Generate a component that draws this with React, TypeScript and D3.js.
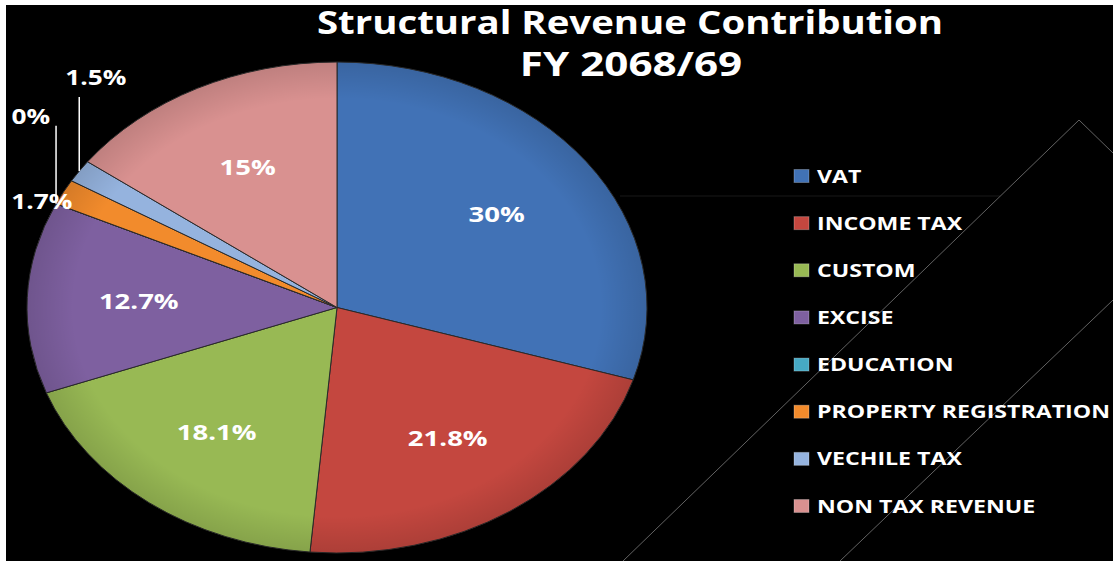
import React from 'react'
import * as d3 from 'd3'

// revenue share per head, FY 2068/69 (percent of total, as printed on the slices)
const categories = ['VAT', 'INCOME TAX', 'CUSTOM', 'EXCISE', 'EDUCATION', 'PROPERTY REGISTRATION', 'VECHILE TAX', 'NON TAX REVENUE']
const shares = [30, 21.8, 18.1, 12.7, 0, 1.7, 1.5, 15]
const shareLabels = ['30%', '21.8%', '18.1%', '12.7%', '0%', '1.7%', '1.5%', '15%']
const colors = ['#4172B6', '#C4473F', '#98B954', '#7E60A0', '#46A9C4', '#F28B2C', '#95B3DE', '#D99190']
const titleLines = ['Structural Revenue Contribution', 'FY 2068/69']

const W = 1114
const H = 563
const cx = 337
const cy = 307.5
const ry = 245.5
const rx = 310
const sx = rx / ry
const stretch = 1.25
const font = "'Open Sans', 'DejaVu Sans', sans-serif"

function App() {
  const pie = d3.pie<number>().value(d => d).sort(null)
  const slices = pie(shares)
  const arc = d3.arc<d3.PieArcDatum<number>>().innerRadius(0).outerRadius(ry)
  const labelArc = d3.arc<d3.PieArcDatum<number>>().innerRadius(ry * 0.64).outerRadius(ry * 0.64)

  const legendY = d3.scalePoint<string>().domain(categories).range([176, 506])

  // point on the rim of the (stretched) pie at a given angle
  const rim = (a: number): [number, number] => [cx + Math.sin(a) * rx, cy - Math.cos(a) * ry]

  const txt = (x: number, y: number, s: string, size: number, anchor = 'middle', key?: string | number, k = stretch) => (
    <text key={key} transform={`translate(${x},${y}) scale(${k},1)`} textAnchor={anchor}
      fontFamily={font} fontWeight="bold" fontSize={size} fill="#fff">{s}</text>
  )

  return (
    <svg width={W} height={H} style={{ position: 'fixed', left: 0, top: 0, background: '#fff' }}>
      <defs>
        <radialGradient id="shade" cx="0.5" cy="0.5" r="0.5">
          <stop offset="0.85" stopColor="#000" stopOpacity={0} />
          <stop offset="1" stopColor="#000" stopOpacity={0.12} />
        </radialGradient>
      </defs>
      <rect x={6} y={5} width={1107} height={556} fill="#000" />

      {/* faint diagonal strokes in the picture background */}
      <g stroke="#9a9a9a" strokeWidth={0.8} fill="none" opacity={0.8}>
        <line x1={1079} y1={120} x2={623} y2={561} />
        <line x1={1079} y1={120} x2={1113} y2={153} />
        <line x1={1113} y1={300} x2={840} y2={561} />
        <line x1={620} y1={196} x2={1000} y2={196} strokeWidth={0.4} opacity={0.5} />
      </g>

      {txt(630, 34, titleLines[0], 32, 'middle', 't0', 1.2)}
      {txt(631, 76, titleLines[1], 34, 'middle', 't1', 1.24)}

      <g transform={`translate(${cx},${cy}) scale(${sx},1)`}>
        {slices.map((d, i) => (
          <path key={i} d={arc(d) || ''} fill={colors[i]} stroke="#2a2a2a" strokeWidth={1}
            vectorEffect="non-scaling-stroke" />
        ))}
        <circle r={ry} fill="url(#shade)" pointerEvents="none" />
      </g>

      {slices.map((d, i) => {
        const mid = (d.startAngle + d.endAngle) / 2
        const name = categories[i]
        if (d.data >= 2) {
          const [lx, ly] = labelArc.centroid(d)
          return txt(cx + lx * sx, cy + ly + 8, shareLabels[i], 22, 'middle', 'l' + i)
        }
        const [ex, ey] = rim(mid)
        if (name === 'PROPERTY REGISTRATION') {
          return txt(ex + 9, ey + 17, shareLabels[i], 21, 'end', 'l' + i)
        }
        const up = name === 'EDUCATION' ? 78 : 74
        return (
          <g key={'l' + i}>
            <line x1={ex} y1={ey} x2={ex} y2={ey - up} stroke="#fff" strokeWidth={1.5} />
            {name === 'EDUCATION'
              ? txt(ex - 6, ey - up - 2, shareLabels[i], 21, 'end')
              : txt(ex - 14, ey - up - 12, shareLabels[i], 21, 'start')}
          </g>
        )
      })}

      {categories.map((c, i) => {
        const y = legendY(c) as number
        return (
          <g key={c}>
            <rect x={794} y={y - 6.5} width={15} height={13} fill={colors[i]} stroke="#fff" strokeOpacity={0.25} strokeWidth={1} />
            {txt(817, y + 6.5, c, 18.5, 'start')}
          </g>
        )
      })}
    </svg>
  )
}

export default App
